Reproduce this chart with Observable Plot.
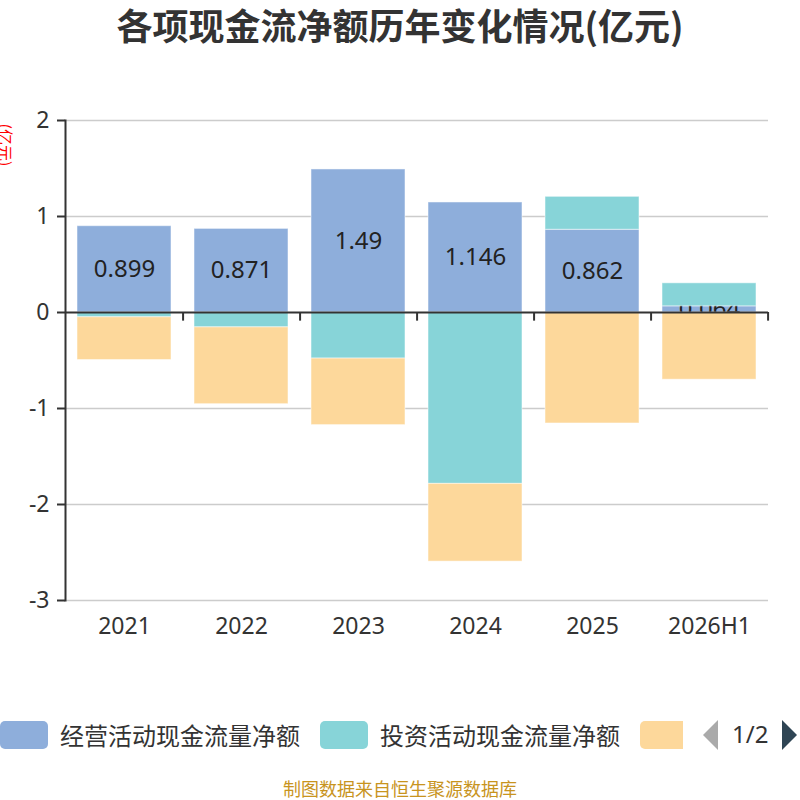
<!DOCTYPE html>
<html>
<head>
<meta charset="utf-8">
<script src="https://cdn.jsdelivr.net/npm/d3@7"></script>
<script src="https://cdn.jsdelivr.net/npm/@observablehq/plot@0.6"></script>
<style>
  html, body { margin: 0; padding: 0; background: #fff; }
  #page { position: relative; width: 800px; height: 800px; overflow: hidden; font-family: "Noto Sans", "Noto Sans CJK SC", sans-serif; }
  #title { position: absolute; left: 0; top: 0; width: 800px; height: 50px; line-height: 48px; text-align: center;
           font-family: "Noto Sans CJK SC", sans-serif; font-weight: bold; font-size: 36px; color: #333; }
  #chart { position: absolute; left: 0; top: 60px; }
  #yname { position: absolute; left: -22px; top: 135px; width: 56px; text-align: center; font-size: 16px; color: #f00;
           transform: rotate(90deg); font-family: "Noto Sans CJK SC", sans-serif; line-height: 20px; }
  #legend { position: absolute; left: 0; top: 720px; width: 683px; height: 30px; overflow: hidden; white-space: nowrap; display: flex; }
  .item { display: flex; align-items: center; flex: none; margin-right: 20px; height: 30px; }
  .swatch { width: 48px; height: 28px; border-radius: 5px; margin-right: 12px; flex: none; }
  .ltext { font-size: 24px; color: #333; font-family: "Noto Sans CJK SC", sans-serif; line-height: 30px; }
  #prev { position: absolute; left: 703px; top: 720px; width: 0; height: 0; border-top: 15px solid transparent; border-bottom: 15px solid transparent; border-right: 15px solid #aaa; }
  #page-num { position: absolute; left: 732px; top: 718px; width: 44px; font-size: 24px; color: #333; line-height: 32px; white-space: nowrap; }
  #next { position: absolute; left: 782px; top: 720px; width: 0; height: 0; border-top: 15px solid transparent; border-bottom: 15px solid transparent; border-left: 15px solid #2f4554; }
  #caption { position: absolute; left: 0; top: 777px; width: 800px; text-align: center; font-size: 18px; color: #c8941e; font-family: "Noto Sans CJK SC", sans-serif; line-height: 22px; }
</style>
</head>
<body>
<div id="page">
  <div id="title">各项现金流净额历年变化情况(亿元)</div>
  <div id="yname">(亿元)</div>
  <div id="chart"></div>
  <div id="legend"></div>
  <div id="prev"></div>
  <div id="page-num">1/2</div>
  <div id="next"></div>
  <div id="caption">制图数据来自恒生聚源数据库</div>
</div>
<script>
const categories = ["2021", "2022", "2023", "2024", "2025", "2026H1"];
const operating = [0.899, 0.871, 1.49, 1.146, 0.862, 0.064];
const investing = [-0.05, -0.155, -0.48, -1.785, 0.343, 0.24];
const financing = [-0.445, -0.80, -0.693, -0.81, -1.156, -0.70];
const operatingLabels = ["0.899", "0.871", "1.49", "1.146", "0.862", "0.064"];
const seriesNames = ["经营活动现金流量净额", "投资活动现金流量净额", "筹资活动现金流量净额"];
const seriesColors = ["#8eaedb", "#87d4d8", "#fdd89b"];
const yTicks = [-3, -2, -1, 0, 1, 2];

const seriesValues = [operating, investing, financing];
const rows = [];
seriesNames.forEach((s, si) => {
  categories.forEach((c, ci) => {
    rows.push({category: c, series: s, value: seriesValues[si][ci], label: si === 0 ? operatingLabels[ci] : ""});
  });
});
const opRows = rows.filter(d => d.series === seriesNames[0]);

const marginLeft = 65, marginRight = 32, width = 800;
const step = (width - marginLeft - marginRight) / categories.length;

const stackOpts = {x: "category", y: "value", z: "series", fill: "series", stroke: "#ffffff", strokeOpacity: 0.5, strokeWidth: 1};

const chart = Plot.plot({
  width: width,
  height: 600,
  marginTop: 60,
  marginBottom: 60,
  marginLeft: marginLeft,
  marginRight: marginRight,
  x: {type: "band", domain: categories, paddingInner: 0.2, paddingOuter: 0.1, label: null},
  y: {domain: [-3, 2], label: null},
  color: {domain: seriesNames, range: seriesColors},
  style: {fontFamily: "'Noto Sans', 'Noto Sans CJK SC', sans-serif", background: "transparent", color: "#333"},
  marks: [
    Plot.gridY(yTicks.filter(t => t !== 0), {stroke: "#cccccc", strokeOpacity: 1, strokeWidth: 1.5}),
    Plot.barY(rows, Plot.filter(d => d.series === seriesNames[0], Plot.stackY(stackOpts))),
    Plot.text(opRows, {x: "category", y: d => d.value / 2, text: "label", fontSize: 24, fill: "#222"}),
    Plot.barY(rows, Plot.filter(d => d.series !== seriesNames[0], Plot.stackY(stackOpts))),
    Plot.ruleY([0], {stroke: "#333", strokeWidth: 2}),
    Plot.ruleX(categories, {x: d => d, dx: step / 2, y1: 0, y2: -0.09, stroke: "#333", strokeWidth: 2}),
    Plot.frame({anchor: "left", stroke: "#333", strokeWidth: 2}),
    Plot.axisY({ticks: yTicks, tickSize: 8, tickPadding: 8, fontSize: 23, color: "#333", strokeWidth: 2, tickFormat: d => String(d)}),
    Plot.axisX({anchor: "bottom", tickSize: 0, tickPadding: 17, fontSize: 23, color: "#333"})
  ]
});
document.getElementById("chart").appendChild(chart);

const legend = document.getElementById("legend");
seriesNames.forEach((s, i) => {
  const item = document.createElement("div");
  item.className = "item";
  const sw = document.createElement("div");
  sw.className = "swatch";
  sw.style.background = seriesColors[i];
  const t = document.createElement("span");
  t.className = "ltext";
  t.textContent = s;
  item.appendChild(sw);
  item.appendChild(t);
  legend.appendChild(item);
});
</script>
</body>
</html>
